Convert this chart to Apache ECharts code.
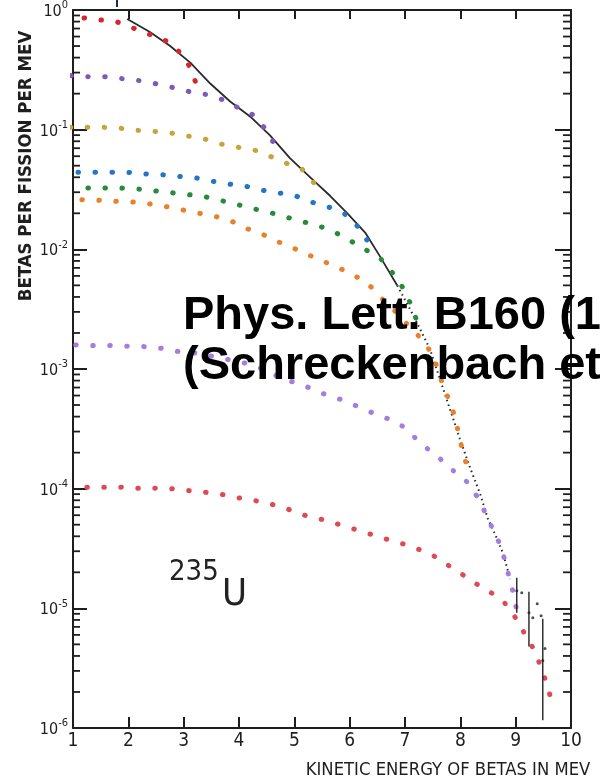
<!DOCTYPE html>
<html>
<head>
<meta charset="utf-8">
<script src="https://cdn.jsdelivr.net/npm/echarts@6/dist/echarts.min.js"></script>
<style>
  html, body { margin: 0; padding: 0; background: #fff; }
  #chart { width: 600px; height: 781px; }
</style>
</head>
<body>
<div id="chart"></div>
<script>
// 235U beta spectrum (betas per fission per MeV) with branch curves

// Axis tick labels
const energyTicks = [1, 2, 3, 4, 5, 6, 7, 8, 9, 10];
const decadeTicks = [1e-6, 1e-5, 1e-4, 1e-3, 1e-2, 1e-1, 1];

// Measured spectrum (solid part, then sparse high-energy part)
const spectrumE = [1.98, 2.39, 2.75, 3.12, 3.48, 3.84, 4.20, 4.56, 4.92, 5.34, 5.65, 5.95, 6.28, 6.55, 6.86];
const spectrumV = [0.842, 0.656, 0.502, 0.363, 0.243, 0.172, 0.129, 0.0897, 0.0578, 0.0379, 0.0279, 0.0202, 0.0138, 0.00869, 0.00499];
const spectrumTailE = [6.86, 7.15, 7.45, 7.63, 7.81, 7.99, 8.18, 8.36, 8.50, 8.66, 8.77, 8.90];
const spectrumTailV = [0.00499, 0.00281, 0.00147, 0.000826, 0.000465, 0.000262, 0.000148, 0.0000897, 0.0000556, 0.0000386, 0.0000290, 0.0000176];

// Last measured points and their error bars
const endPointE = [9.02, 9.11, 9.24, 9.31, 9.39, 9.46, 9.53, 9.49];
const endPointV = [1.40e-5, 1.35e-5, 9.2e-6, 8.36e-6, 1.09e-5, 8.69e-6, 4.62e-6, 3.67e-6];
const errorBarE = [9.02, 9.24, 9.49];
const errorBarLow = [9.2e-6, 4.8e-6, 1.16e-6];
const errorBarHigh = [1.80e-5, 1.375e-5, 8.2e-6];

// Branch curves
const redTopE = [1.20, 1.49, 1.80, 2.08, 2.36, 2.68, 2.92, 3.10, 3.22];
const redTopV = [0.858, 0.826, 0.795, 0.709, 0.632, 0.552, 0.448, 0.342, 0.247];

const purpleTopE = [0.96, 1.29, 1.58, 1.89, 2.19, 2.48, 2.81, 3.10, 3.40, 3.69, 3.98, 4.24, 4.45, 4.62];
const purpleTopV = [0.283, 0.277, 0.277, 0.267, 0.257, 0.243, 0.225, 0.208, 0.197, 0.179, 0.153, 0.134, 0.105, 0.0785];

const oliveE = [0.95, 1.27, 1.56, 1.87, 2.16, 2.46, 2.81, 3.10, 3.40, 3.69, 3.98, 4.29, 4.56, 4.85, 5.14, 5.34, 5.54];
const oliveV = [0.1046, 0.1046, 0.1046, 0.1026, 0.0988, 0.0969, 0.0932, 0.0881, 0.0831, 0.0755, 0.0713, 0.0673, 0.0600, 0.0525, 0.0468, 0.0365, 0.0285];

const blueE = [1.09, 1.40, 1.69, 1.99, 2.28, 2.61, 2.93, 3.24, 3.53, 3.82, 4.13, 4.43, 4.72, 5.01, 5.30, 5.63, 5.90, 6.13, 6.31];
const blueV = [0.0440, 0.0440, 0.0440, 0.0440, 0.0428, 0.0420, 0.0407, 0.0394, 0.0370, 0.0351, 0.0336, 0.0311, 0.0296, 0.0281, 0.0249, 0.0225, 0.0199, 0.0158, 0.0120];

const greenE = [1.27, 1.56, 1.87, 2.18, 2.46, 2.81, 3.10, 3.40, 3.69, 3.98, 4.27, 4.58, 4.87, 5.16, 5.46, 5.77, 6.04, 6.31, 6.57, 6.77, 6.95, 7.09, 7.22];
const greenV = [0.0325, 0.0325, 0.0325, 0.0319, 0.0309, 0.0296, 0.0286, 0.0274, 0.0255, 0.0236, 0.0218, 0.0202, 0.0185, 0.0170, 0.0156, 0.0136, 0.0116, 0.0098, 0.00825, 0.00640, 0.00487, 0.00360, 0.00250];

const orangeE = [1.16, 1.47, 1.78, 2.08, 2.37, 2.72, 3.01, 3.31, 3.60, 3.89, 4.16, 4.45, 4.72, 5.01, 5.30, 5.61, 5.88, 6.15, 6.40, 6.62, 6.86, 7.07, 7.31, 7.47, 7.60, 7.69, 7.83, 7.92, 7.99, 8.07, 8.16];
const orangeV = [0.0260, 0.0257, 0.0252, 0.0249, 0.0240, 0.0226, 0.0212, 0.0199, 0.0187, 0.0170, 0.0148, 0.0132, 0.0115, 0.0101, 0.00881, 0.00764, 0.00674, 0.00581, 0.00480, 0.00372, 0.00292, 0.00228, 0.00176, 0.00138, 0.000994, 0.000709, 0.000515, 0.000367, 0.000256, 0.000186, 0.000132];

const purpleLowE = [1.05, 1.36, 1.67, 1.98, 2.27, 2.59, 2.90, 3.21, 3.51, 3.80, 4.11, 4.38, 4.65, 4.92, 5.23, 5.52, 5.83, 6.12, 6.40, 6.68, 6.95, 7.18, 7.42, 7.67, 7.89, 8.14, 8.32, 8.48, 8.61, 8.75, 8.83, 8.92, 8.99, 9.06];
const purpleLowV = [0.00159, 0.00157, 0.00157, 0.00155, 0.00154, 0.00149, 0.00140, 0.00136, 0.00128, 0.00120, 0.00112, 0.00102, 0.000891, 0.000795, 0.000709, 0.000623, 0.000558, 0.000492, 0.000433, 0.000386, 0.000334, 0.000267, 0.000213, 0.000172, 0.000139, 0.000112, 0.0000836, 0.0000589, 0.0000434, 0.0000319, 0.0000222, 0.0000160, 0.0000111, 0.00000804];

const redLowE = [1.25, 1.56, 1.87, 2.16, 2.46, 2.81, 3.10, 3.40, 3.71, 4.00, 4.31, 4.62, 4.89, 5.18, 5.50, 5.81, 6.10, 6.39, 6.68, 6.96, 7.25, 7.52, 7.78, 8.05, 8.30, 8.59, 8.84, 9.02, 9.17, 9.33, 9.46, 9.57, 9.66];
const redLowV = [0.000103, 0.000103, 0.000103, 0.000101, 0.000101, 0.0000997, 0.0000963, 0.0000932, 0.0000892, 0.0000836, 0.0000792, 0.0000734, 0.0000673, 0.0000600, 0.0000553, 0.0000502, 0.0000457, 0.0000415, 0.0000377, 0.0000346, 0.0000311, 0.0000274, 0.0000229, 0.0000190, 0.0000159, 0.0000132, 0.0000107, 0.00000804, 0.00000604, 0.00000453, 0.00000321, 0.00000228, 0.00000161];

const NARROW = '"DejaVu Sans Condensed", "Liberation Sans Narrow", sans-serif';
const INK = '#1e1e1e';

const pairs = (xs, ys) => xs.map((x, i) => [x, ys[i]]);

// minor log ticks 2..9 inside every decade
const minorTicks = [];
for (let d = 0; d < decadeTicks.length - 1; d++) {
  for (let m = 2; m <= 9; m++) minorTicks.push([1, m * decadeTicks[d]]);
}

function dottedCurve(name, xs, ys, color) {
  return {
    type: 'line', name, data: pairs(xs, ys),
    showSymbol: false, clip: false, silent: true, z: 4,
    lineStyle: { color, width: 5, type: [0.5, 16.5], cap: 'round', join: 'round' }
  };
}

const chart = echarts.init(document.getElementById('chart'));

const frameLine = { show: true, onZero: false, lineStyle: { color: INK, width: 2 } };

chart.setOption({
  animation: false,
  backgroundColor: '#ffffff',
  grid: { left: 73, right: 29, top: 6, bottom: 53, containLabel: false },
  xAxis: [
    {
      type: 'value', min: energyTicks[0], max: energyTicks[energyTicks.length - 1], interval: 1,
      position: 'bottom', axisLine: frameLine,
      axisTick: { inside: true, length: 11, lineStyle: { color: INK, width: 2 } },
      axisLabel: { margin: 4, fontSize: 19, fontFamily: NARROW, color: INK },
      splitLine: { show: false }
    },
    {
      type: 'value', min: energyTicks[0], max: energyTicks[energyTicks.length - 1], interval: 1,
      position: 'top', axisLine: frameLine,
      axisTick: { inside: true, length: 9, lineStyle: { color: INK, width: 2 } },
      axisLabel: { show: false }, splitLine: { show: false }
    }
  ],
  yAxis: [
    {
      type: 'log', logBase: 10, min: decadeTicks[0], max: decadeTicks[decadeTicks.length - 1],
      position: 'left', axisLine: frameLine,
      axisTick: { inside: true, length: 14, lineStyle: { color: INK, width: 2 } },
      axisLabel: {
        margin: 5,
        formatter: v => {
          const e = Math.round(Math.log10(v));
          return '{b|10}{s|' + (e === 0 ? '0' : '-' + (-e)) + '}';
        },
        rich: {
          b: { fontSize: 16, fontFamily: NARROW, color: INK, verticalAlign: 'bottom', lineHeight: 20 },
          s: { fontSize: 11, fontFamily: NARROW, color: INK, verticalAlign: 'top', lineHeight: 20 }
        }
      },
      splitLine: { show: false }
    },
    {
      type: 'log', logBase: 10, min: decadeTicks[0], max: decadeTicks[decadeTicks.length - 1],
      position: 'right', axisLine: frameLine,
      axisTick: { inside: true, length: 16, lineStyle: { color: INK, width: 2 } },
      axisLabel: { show: false }, splitLine: { show: false }
    }
  ],
  series: [
    {
      type: 'custom', name: 'minor ticks', data: minorTicks, clip: false, silent: true, z: 2,
      renderItem: (params, api) => {
        const v = api.value(1);
        const l = api.coord([energyTicks[0], v]);
        const r = api.coord([energyTicks[energyTicks.length - 1], v]);
        return {
          type: 'group', children: [
            { type: 'line', shape: { x1: l[0], y1: l[1], x2: l[0] + 7, y2: l[1] }, style: { stroke: INK, lineWidth: 1.8 } },
            { type: 'line', shape: { x1: r[0], y1: r[1], x2: r[0] - 8, y2: r[1] }, style: { stroke: INK, lineWidth: 1.8 } }
          ]
        };
      }
    },
    {
      type: 'line', name: 'spectrum', data: pairs(spectrumE, spectrumV), showSymbol: false, clip: false, z: 3,
      lineStyle: { color: '#2a2a2a', width: 1.8 }
    },
    {
      type: 'line', name: 'spectrum tail', data: pairs(spectrumTailE, spectrumTailV), showSymbol: false, clip: false, z: 3,
      lineStyle: { color: '#2a2a2a', width: 2, type: [1.5, 3.5] }
    },
    dottedCurve('red 1', redTopE, redTopV, '#d62728'),
    dottedCurve('purple 1', purpleTopE, purpleTopV, '#7a5cb8'),
    dottedCurve('olive', oliveE, oliveV, '#c4a43c'),
    dottedCurve('blue', blueE, blueV, '#2375c6'),
    dottedCurve('green', greenE, greenV, '#2a8a3c'),
    dottedCurve('orange', orangeE, orangeV, '#e8802c'),
    dottedCurve('purple 2', purpleLowE, purpleLowV, '#a17ee0'),
    dottedCurve('red 2', redLowE, redLowV, '#de4a54'),
    {
      type: 'custom', name: 'error bars', data: errorBarE.map((e, i) => [e, errorBarLow[i], errorBarHigh[i]]),
      clip: false, silent: true, z: 6,
      renderItem: (params, api) => {
        const lo = api.coord([api.value(0), api.value(1)]);
        const hi = api.coord([api.value(0), api.value(2)]);
        return { type: 'line', shape: { x1: lo[0], y1: lo[1], x2: hi[0], y2: hi[1] }, style: { stroke: '#222', lineWidth: 1.4 } };
      }
    },
    {
      type: 'scatter', name: 'end points', data: pairs(endPointE, endPointV), symbolSize: 3, clip: false, z: 6,
      itemStyle: { color: '#222' }
    }
  ],
  graphic: [
    {
      type: 'line', shape: { x1: 117, y1: 0, x2: 117, y2: 7 }, style: { stroke: '#1d2a5c', lineWidth: 2 }
    },
    {
      type: 'text', x: 26, y: 166, rotation: Math.PI / 2,
      style: { text: 'BETAS PER FISSION PER MEV', font: 'bold 18.5px ' + NARROW, fill: INK, align: 'center', verticalAlign: 'middle' }
    },
    {
      type: 'text', x: 448, y: 770,
      style: { text: 'KINETIC ENERGY OF BETAS IN MEV', font: '18.3px ' + NARROW, fill: INK, align: 'center', verticalAlign: 'middle' }
    },
    {
      type: 'text', x: 169, y: 572,
      style: { text: '235', font: '29px ' + NARROW, fill: '#222', align: 'left', verticalAlign: 'middle' }
    },
    {
      type: 'text', x: 222, y: 595,
      style: { text: 'U', font: '38px ' + NARROW, fill: '#222', align: 'left', verticalAlign: 'middle' }
    },
    {
      type: 'text', x: 183, y: 316, z: 100,
      style: { text: 'Phys. Lett. B160 (1985) 325', font: 'bold 47px "Liberation Sans", Arial, sans-serif', fill: '#000', align: 'left', verticalAlign: 'middle' }
    },
    {
      type: 'text', x: 183, y: 366, z: 100,
      style: { text: '(Schreckenbach et al.)', font: 'bold 47px "Liberation Sans", Arial, sans-serif', fill: '#000', align: 'left', verticalAlign: 'middle' }
    }
  ]
});
</script>
</body>
</html>
